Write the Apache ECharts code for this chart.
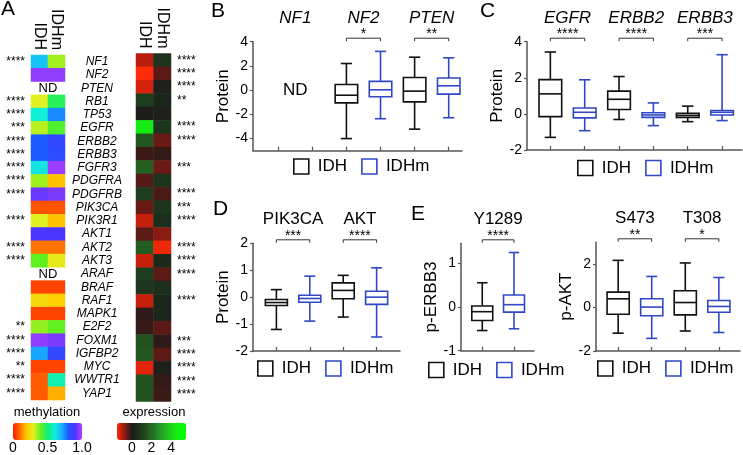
<!DOCTYPE html>
<html>
<head>
<meta charset="utf-8">
<script src="https://cdn.jsdelivr.net/npm/echarts@6/dist/echarts.min.js"></script>
<style>
  html, body { margin: 0; background: #fff; }
  #chart { width: 743px; height: 455px; }
</style>
</head>
<body>
<div id="chart"></div>
<script>
// ---- panel A: heatmaps ----
const genes = ['NF1','NF2','PTEN','RB1','TP53','EGFR','ERBB2','ERBB3','FGFR3','PDGFRA','PDGFRB','PIK3CA','PIK3R1',
  'AKT1','AKT2','AKT3','ARAF','BRAF','RAF1','MAPK1','E2F2','FOXM1','IGFBP2','MYC','WWTR1','YAP1'];
const heatCols = ['IDH', 'IDHm'];
const methStars = ['****','','','****','****','***','****','****','****','****','****','','****',
  '','****','****','','','','','**','****','****','**','****','****'];
const exprStars = ['****','****','****','**','','****','****','','***','','****','***','****',
  '','****','****','****','','****','','','***','****','****','****','****'];
const methIDH  = [0.68,0.97,null,0.30,0.60,0.33,0.80,0.80,0.62,0.35,0.93,0.07,0.30,
  0.90,0.11,0.40,null,0.05,0.24,0.05,0.36,0.97,0.72,0.05,0.08,0.08];
const methIDHm = [0.35,0.97,null,0.47,0.75,0.42,0.85,0.84,0.98,0.19,0.95,0.07,0.19,
  0.90,0.11,0.28,null,0.05,0.21,0.05,0.40,0.95,0.85,0.05,0.56,0.17];
const exprIDH  = [-1.0,-1.5,-1.2,1.0,0.1,4.5,1.6,-0.2,1.8,-0.35,1.0,-0.5,-1.1,
  -0.4,1.7,-1.1,1.0,0.8,-1.1,-0.1,-0.15,1.5,1.6,-1.3,1.5,1.5];
const exprIDHm = [0.8,-0.4,0.2,0.4,0.2,0.8,-0.5,-0.15,-0.5,0.8,-0.3,0.8,0.6,
  -0.7,-1.4,0.5,-0.4,0.6,0.4,0.4,-0.4,-0.1,-0.4,0.2,-0.15,-0.2];
const methTicks = [0, 0.5, 1];
const exprTicks = [0, 2, 4];

// ---- box plots: [min, Q1, median, Q3, max] ----
const bGenes = ['NF1','NF2','PTEN'];
const bStars = ['','*','**'];
const bIDH  = [null, [-4.0,-1.05,-0.42,0.47,2.2], [-3.22,-0.97,-0.08,1.05,2.72]];
const bIDHm = [null, [-2.36,-0.55,0.03,0.72,3.2], [-2.28,-0.33,0.36,1.0,2.67]];
const bTicks = [-4,-2,0,2,4];

const cGenes = ['EGFR','ERBB2','ERBB3'];
const cStars = ['****','****','***'];
const cIDH  = [[-1.3,-0.15,1.11,1.9,3.43], [-0.31,0.24,0.81,1.26,2.07], [-0.43,-0.19,-0.08,0.04,0.43]];
const cIDHm = [[-0.93,-0.22,0.09,0.33,1.89], [-0.65,-0.19,-0.06,0.06,0.61], [-0.37,-0.06,0.09,0.19,3.28]];
const cTicks = [-2,0,2,4];

const dGenes = ['PIK3CA','AKT'];
const dStars = ['***','****'];
const dIDH  = [[-1.2,-0.31,-0.2,-0.09,0.28], [-0.74,-0.06,0.25,0.53,0.81]];
const dIDHm = [[-0.89,-0.19,-0.05,0.07,0.78], [-1.48,-0.27,0,0.22,1.09]];
const dTicks = [-2,-1,0,1,2];

const e1Sites = ['Y1289'];
const e1Stars = ['****'];
const e1IDH  = [[-0.54,-0.31,-0.11,0.02,0.55]];
const e1IDHm = [[-0.5,-0.12,0.05,0.27,1.24]];
const e1Ticks = [-1,0,1];

const e2Sites = ['S473','T308'];
const e2Stars = ['**','*'];
const e2IDH  = [[-1.18,-0.31,0.4,0.71,2.17], [-1.08,-0.34,0.23,0.77,2.05]];
const e2IDHm = [[-1.42,-0.38,0.02,0.4,1.43], [-1.15,-0.22,0.05,0.32,1.38]];
const e2Ticks = [-2,0,2];

// ---- styles ----
const FONT = '"Liberation Sans", Arial, Helvetica, sans-serif';
const BLACK = '#111';
const BLUE = '#3148c6';
const AXIS = '#555';
const methColors = ['#ff1e00','#ff6a00','#ffcc00','#e0f020','#60f020','#10f070',
  '#10f0d8','#18b8ff','#1a5cff','#4a34ff','#b040ff'];
const exprColors = ['#ff2a0a','#b81c0c','#6a1a14','#1e1a1a','#1c2a1c','#1e3c1e','#22521f','#256a22',
  '#268426','#269e26','#22b822','#1cd41c','#14ec14','#08fa08','#00ff00'];

const panels = [
  { grid: {left: 253, top: 41.7, width: 209, height: 109}, ymin: -5, ymax: 4, ticks: bTicks,
    xmin: 0.26, xmax: 6.39, name: 'Protein', nameGap: 16, genes: bGenes, stars: bStars,
    idh: bIDH, idhm: bIDHm, italic: true, legend: {left: 293, top: 158} },
  { grid: {left: 527, top: 41.7, width: 215, height: 108.3}, ymin: -2, ymax: 4, ticks: cTicks,
    xmin: 0.32, xmax: 6.58, name: 'Protein', nameGap: 14, genes: cGenes, stars: cStars,
    idh: cIDH, idhm: cIDHm, italic: true, legend: {left: 577, top: 159.5} },
  { grid: {left: 253, top: 243.3, width: 147, height: 107.7}, ymin: -2, ymax: 2, ticks: dTicks,
    xmin: 0.3, xmax: 4.7, name: 'Protein', nameGap: 15, genes: dGenes, stars: dStars,
    idh: dIDH, idhm: dIDHm, italic: false, legend: {left: 257, top: 360} },
  { grid: {left: 461, top: 243.3, width: 73, height: 107.4}, ymin: -1, ymax: 1.45, ticks: e1Ticks,
    xmin: 0.33, xmax: 2.63, name: 'p-ERBB3', nameGap: 15, genes: e1Sites, stars: e1Stars,
    idh: e1IDH, idhm: e1IDHm, italic: false, legend: {left: 428, top: 361.5} },
  { grid: {left: 596, top: 242.3, width: 144, height: 108.7}, ymin: -2, ymax: 3, ticks: e2Ticks,
    xmin: 0.34, xmax: 4.63, name: 'p-AKT', nameGap: 15, genes: e2Sites, stars: e2Stars,
    idh: e2IDH, idhm: e2IDHm, italic: false, legend: {left: 597, top: 360} }
];

function boxRender(color) {
  return function (params, api) {
    const x = api.value(0);
    const lo = api.coord([x, api.value(1)]);
    const q1 = api.coord([x, api.value(2)]);
    const md = api.coord([x, api.value(3)]);
    const q3 = api.coord([x, api.value(4)]);
    const hi = api.coord([x, api.value(5)]);
    const w = api.size([0.66, 0])[0];
    const cx = lo[0];
    const st = {stroke: color, lineWidth: 1.6, fill: 'none'};
    const line = (x1, y1, x2, y2) => ({type: 'line', shape: {x1, y1, x2, y2}, style: st});
    return {type: 'group', children: [
      {type: 'rect', shape: {x: cx - w / 2, y: q3[1], width: w, height: q1[1] - q3[1]}, style: st},
      line(cx - w / 2, md[1], cx + w / 2, md[1]),
      line(cx, q3[1], cx, hi[1]),
      line(cx, q1[1], cx, lo[1]),
      line(cx - w / 4, hi[1], cx + w / 4, hi[1]),
      line(cx - w / 4, lo[1], cx + w / 4, lo[1])
    ]};
  };
}

function annotSeries(xi, yi, p) {
  return {
    type: 'custom', xAxisIndex: xi, yAxisIndex: yi, silent: true, clip: false,
    data: p.genes.map((g, i) => [2 * i + 1.5, p.ymax, i]),
    renderItem(params, api) {
      const i = api.value(2);
      const top = api.coord([api.value(0), api.value(1)]);
      const a = api.coord([api.value(0) - 0.5, api.value(1)]);
      const b = api.coord([api.value(0) + 0.5, api.value(1)]);
      const by = top[1] - 3.5;
      const ch = [{type: 'text', style: {text: p.genes[i], x: top[0], y: by - 20, align: 'center',
        verticalAlign: 'middle', fontSize: 17, fontStyle: p.italic ? 'italic' : 'normal',
        fontFamily: FONT, fill: '#000'}}];
      if (p.stars[i]) {
        ch.push({type: 'polyline', shape: {points: [[a[0], by + 3], [a[0], by], [b[0], by], [b[0], by + 3]]},
          style: {stroke: '#333', lineWidth: 1, fill: 'none'}});
        ch.push({type: 'text', style: {text: p.stars[i], x: top[0], y: by + 3, align: 'center',
          verticalAlign: 'bottom', fontSize: 14, fontFamily: FONT, fill: '#000'}});
      }
      if (!p.idh[i]) {
        const c = api.coord([api.value(0), 0]);
        ch.push({type: 'text', style: {text: 'ND', x: c[0], y: c[1], align: 'center',
          verticalAlign: 'middle', fontSize: 17, fontFamily: FONT, fill: '#000'}});
      }
      return {type: 'group', children: ch};
    }
  };
}

function heatData(a, b) {
  const out = [];
  genes.forEach((g, i) => {
    if (a[i] != null) out.push([0, i, a[i]]);
    if (b[i] != null) out.push([1, i, b[i]]);
  });
  return out;
}

const hiddenLine = {show: false};
const grids = [
  {left: 31, top: 55, width: 34, height: 345},
  {left: 136, top: 53.5, width: 35, height: 348},
  ...panels.map(p => p.grid),
  {left: 13, top: 423, width: 69, height: 17},
  {left: 117, top: 423, width: 69, height: 17}
];

const colHeaderAxis = gi => ({
  type: 'category', gridIndex: gi, position: 'top', data: heatCols,
  axisLine: hiddenLine, axisTick: {show: false},
  axisLabel: {rotate: 90, fontSize: 16, margin: 5, interval: 0, color: '#000', fontFamily: FONT}
});

const xAxes = [colHeaderAxis(0), colHeaderAxis(1)];
const yAxes = [
  {type: 'category', gridIndex: 0, position: 'right', inverse: true, data: genes,
    axisLine: hiddenLine, axisTick: {show: false},
    axisLabel: {interval: 0, align: 'center', margin: 32, fontSize: 12, fontStyle: 'italic',
      color: '#000', fontFamily: FONT}},
  {type: 'category', gridIndex: 0, position: 'left', inverse: true, data: genes,
    axisLine: hiddenLine, axisTick: {show: false},
    axisLabel: {interval: 0, margin: 6, fontSize: 12, color: '#000', fontFamily: FONT,
      padding: [5, 0, 0, 0], formatter: (v, i) => methStars[i]}},
  {type: 'category', gridIndex: 1, position: 'right', inverse: true, data: genes,
    axisLine: hiddenLine, axisTick: {show: false},
    axisLabel: {interval: 0, margin: 6, fontSize: 12, color: '#000', fontFamily: FONT,
      padding: [5, 0, 0, 0], formatter: (v, i) => exprStars[i]}}
];

const series = [
  {type: 'heatmap', xAxisIndex: 0, yAxisIndex: 0, data: heatData(methIDH, methIDHm), silent: true},
  {type: 'heatmap', xAxisIndex: 1, yAxisIndex: 2, data: heatData(exprIDH, exprIDHm), silent: true},
  {type: 'custom', xAxisIndex: 0, yAxisIndex: 0, silent: true,
    data: genes.map((g, i) => [i, methIDH[i]]).filter(d => d[1] == null).map(d => [0, d[0]]),
    renderItem(params, api) {
      const p0 = api.coord([0, api.value(1)]);
      const p1 = api.coord([1, api.value(1)]);
      return {type: 'text', style: {text: 'ND', x: (p0[0] + p1[0]) / 2, y: p0[1], align: 'center',
        verticalAlign: 'middle', fontSize: 13, fontFamily: FONT, fill: '#000'}};
    }}
];

const legends = [];
panels.forEach((p, k) => {
  const gi = k + 2;
  const xi = xAxes.length;
  const yi = yAxes.length;
  const pos = [];
  for (let i = 1; i <= 2 * p.genes.length; i++) pos.push(i);
  xAxes.push({type: 'value', gridIndex: gi, min: p.xmin, max: p.xmax,
    axisLine: {show: true, onZero: false, lineStyle: {color: AXIS, width: 1.5}},
    axisTick: {show: true, inside: true, length: 4, customValues: pos, lineStyle: {color: AXIS, width: 1.2}},
    axisLabel: {show: false}, splitLine: {show: false}});
  yAxes.push({type: 'value', gridIndex: gi, min: p.ymin, max: p.ymax,
    name: p.name, nameLocation: 'middle', nameGap: p.nameGap,
    nameTextStyle: {fontSize: 17, color: '#000', fontFamily: FONT},
    axisLine: {show: true, onZero: false, lineStyle: {color: AXIS, width: 1.5}},
    axisTick: {show: true, length: 3, customValues: p.ticks, lineStyle: {color: AXIS, width: 1.2}},
    axisLabel: {customValues: p.ticks, fontSize: 14, margin: 5, color: '#000', fontFamily: FONT},
    splitLine: {show: false}});
  series.push({type: 'custom', name: 'IDH', xAxisIndex: xi, yAxisIndex: yi, clip: false,
    data: p.idh.map((b, i) => b ? [2 * i + 1, ...b] : null).filter(Boolean), renderItem: boxRender(BLACK)});
  series.push({type: 'custom', name: 'IDHm', xAxisIndex: xi, yAxisIndex: yi, clip: false,
    data: p.idhm.map((b, i) => b ? [2 * i + 2, ...b] : null).filter(Boolean), renderItem: boxRender(BLUE)});
  series.push(annotSeries(xi, yi, p));
  legends.push({left: p.legend.left, top: p.legend.top, padding: 0, itemGap: 14,
    itemWidth: 15, itemHeight: 15, selectedMode: false,
    textStyle: {fontSize: 17, color: '#000', fontFamily: FONT, padding: [0, 0, 0, 4]},
    data: [
      {name: 'IDH', icon: 'rect', itemStyle: {color: '#fff', borderColor: BLACK, borderWidth: 1.6}},
      {name: 'IDHm', icon: 'rect', itemStyle: {color: '#fff', borderColor: BLUE, borderWidth: 1.6}}
    ]});
});

// colour bar tick axes
[[7, 0, 1, methTicks, v => v === 1 ? '1.0' : String(v)], [8, -1.5, 5.5, exprTicks, v => String(v)]]
  .forEach(([gi, mn, mx, ticks, fmt]) => {
    xAxes.push({type: 'value', gridIndex: gi, min: mn, max: mx,
      axisLine: hiddenLine, axisTick: {show: false}, splitLine: {show: false},
      axisLabel: {customValues: ticks, formatter: fmt, fontSize: 14, margin: 6, color: '#000', fontFamily: FONT}});
    yAxes.push({type: 'value', gridIndex: gi, min: 0, max: 1, show: false});
  });

const txt = (text, x, y, size, align) => ({type: 'text', x, y,
  style: {text, fontSize: size, fontFamily: FONT, fill: '#000', align: align || 'left', verticalAlign: 'middle'}});

const chart = echarts.init(document.getElementById('chart'), null, {renderer: 'canvas'});
chart.setOption({
  animation: false,
  backgroundColor: '#fff',
  textStyle: {fontFamily: FONT},
  grid: grids,
  xAxis: xAxes,
  yAxis: yAxes,
  legend: legends,
  visualMap: [
    {type: 'continuous', seriesIndex: 0, min: 0, max: 1, inRange: {color: methColors},
      orient: 'horizontal', left: 13, top: 423, itemWidth: 17, itemHeight: 69, padding: 0,
      calculable: false, hoverLink: false, text: null},
    {type: 'continuous', seriesIndex: 1, min: -1.5, max: 5.5, inRange: {color: exprColors},
      orient: 'horizontal', left: 117, top: 423, itemWidth: 17, itemHeight: 69, padding: 0,
      calculable: false, hoverLink: false, text: null}
  ],
  graphic: [
    txt('A', 1, 9, 21), txt('B', 211, 11, 21), txt('C', 480, 11, 21),
    txt('D', 213, 209, 21), txt('E', 411, 214, 21),
    txt('methylation', 47, 412, 13, 'center'), txt('expression', 154, 412, 13, 'center')
  ],
  series: series
});
</script>
</body>
</html>
